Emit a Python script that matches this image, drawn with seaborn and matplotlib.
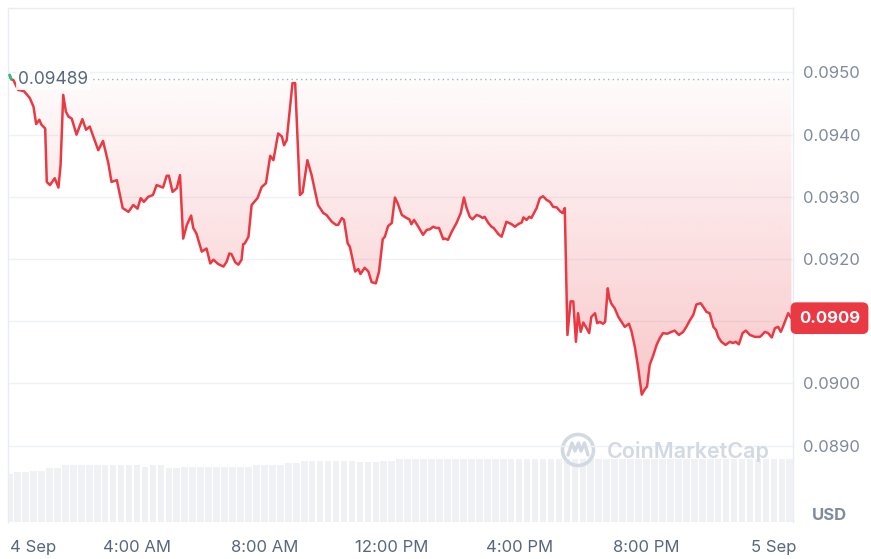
import numpy as np
import matplotlib
matplotlib.use("Agg")
import matplotlib.pyplot as plt
import matplotlib.transforms as mtransforms
from matplotlib.patches import Circle, PathPatch
from matplotlib.lines import Line2D
import seaborn as sns

# ---------------- data ----------------
minutes = [0, 3, 7, 16, 27, 38, 45, 50, 56, 60, 67, 70, 76, 85, 92, 96, 101, 106, 111, 117,
           126, 137, 144, 151, 161, 167, 176, 186, 192, 202, 213, 224, 233, 241, 247, 253, 261,
           270, 277, 289, 296, 300, 307, 315, 321, 327, 334, 342, 346, 352, 362, 371, 378, 384,
           393, 403, 409, 414, 418, 425, 431, 437, 440, 443, 450, 456, 467, 475, 483, 491, 497,
           506, 513, 517, 522, 533, 538, 547, 552, 561, 569, 581, 591, 597, 607, 615, 619, 626,
           630, 637, 641, 651, 657, 661, 669, 676, 682, 690, 696, 703, 707, 713, 720, 726, 731,
           739, 748, 753, 757, 762, 770, 779, 786, 792, 798, 804, 809, 817, 820, 826, 833, 842,
           850, 856, 861, 867, 872, 880, 886, 891, 895, 902, 908, 912, 921, 927, 936, 946, 952,
           958, 965, 968, 974, 979, 983, 993, 999, 1005, 1012, 1018, 1024, 1031, 1037, 1042,
           1046, 1051, 1057, 1062, 1067, 1071, 1076, 1081, 1087, 1092, 1096, 1103, 1107, 1112,
           1118, 1122, 1127, 1130, 1134, 1140, 1147, 1153, 1159, 1167, 1172, 1178, 1184, 1191,
           1197, 1201, 1206, 1213, 1219, 1225, 1231, 1239, 1247, 1253, 1261, 1269, 1275, 1282,
           1288, 1294, 1302, 1307, 1313, 1319, 1326, 1331, 1335, 1341, 1349, 1357, 1363, 1368,
           1374, 1381, 1387, 1395, 1404, 1414, 1423, 1429, 1436, 1442, 1448, 1453, 1457, 1467,
           1473]
prices = [0.09496, 0.09489, 0.09488, 0.09472, 0.09470, 0.09459, 0.09445, 0.09417, 0.09424,
          0.09416, 0.09410, 0.09324, 0.09319, 0.09330, 0.09315, 0.09351, 0.09464, 0.09437,
          0.09429, 0.09426, 0.09400, 0.09425, 0.09408, 0.09413, 0.09389, 0.09375, 0.09390,
          0.09354, 0.09324, 0.09327, 0.09282, 0.09276, 0.09287, 0.09281, 0.09298, 0.09292,
          0.09300, 0.09303, 0.09319, 0.09315, 0.09334, 0.09334, 0.09308, 0.09314, 0.09335,
          0.09233, 0.09255, 0.09270, 0.09250, 0.09241, 0.09212, 0.09217, 0.09193, 0.09199,
          0.09192, 0.09188, 0.09196, 0.09209, 0.09208, 0.09195, 0.09191, 0.09199, 0.09224,
          0.09225, 0.09236, 0.09287, 0.09298, 0.09316, 0.09322, 0.09366, 0.09359, 0.09402,
          0.09397, 0.09383, 0.09391, 0.09483, 0.09483, 0.09303, 0.09307, 0.09359, 0.09335,
          0.09287, 0.09274, 0.09271, 0.09260, 0.09255, 0.09255, 0.09266, 0.09263, 0.09225,
          0.09220, 0.09180, 0.09184, 0.09176, 0.09186, 0.09180, 0.09163, 0.09161, 0.09180,
          0.09232, 0.09236, 0.09253, 0.09258, 0.09299, 0.09290, 0.09271, 0.09266, 0.09264,
          0.09256, 0.09263, 0.09252, 0.09239, 0.09247, 0.09248, 0.09252, 0.09250, 0.09250,
          0.09232, 0.09233, 0.09231, 0.09244, 0.09258, 0.09274, 0.09299, 0.09282, 0.09268,
          0.09264, 0.09271, 0.09269, 0.09266, 0.09268, 0.09258, 0.09252, 0.09250, 0.09240,
          0.09236, 0.09260, 0.09256, 0.09252, 0.09256, 0.09259, 0.09267, 0.09263, 0.09268,
          0.09266, 0.09282, 0.09298, 0.09301, 0.09295, 0.09292, 0.09284, 0.09283, 0.09277,
          0.09274, 0.09282, 0.09078, 0.09132, 0.09132, 0.09067, 0.09113, 0.09083, 0.09098,
          0.09089, 0.09081, 0.09107, 0.09113, 0.09097, 0.09099, 0.09096, 0.09099, 0.09153,
          0.09137, 0.09128, 0.09121, 0.09107, 0.09099, 0.09091, 0.09096, 0.09083, 0.09059,
          0.09027, 0.08982, 0.08991, 0.08995, 0.09030, 0.09046, 0.09062, 0.09073, 0.09081,
          0.09080, 0.09083, 0.09085, 0.09078, 0.09083, 0.09091, 0.09102, 0.09110, 0.09127,
          0.09129, 0.09123, 0.09115, 0.09113, 0.09091, 0.09086, 0.09075, 0.09067, 0.09062,
          0.09067, 0.09065, 0.09067, 0.09063, 0.09081, 0.09085, 0.09078, 0.09075, 0.09075,
          0.09083, 0.09081, 0.09074, 0.09089, 0.09091, 0.09083, 0.09091, 0.09113, 0.09105]

vol_minutes = list(range(0, 1471, 15))
volumes = [4.8, 5.0, 5.0, 5.1, 5.1, 5.4, 5.4,
           5.7, 5.7, 5.7, 5.7, 5.7, 5.7, 5.7, 5.7, 5.7, 5.7,
           5.5, 5.7, 5.7, 5.4, 5.4,
           5.5, 5.5, 5.5, 5.5, 5.5, 5.5, 5.5, 5.5, 5.5,
           5.7, 5.7, 5.7, 5.7, 5.9, 5.9,
           6.1, 6.1, 6.1, 6.1, 6.1, 6.1, 6.1, 6.0, 6.0, 6.0, 6.1, 6.1,
           6.3, 6.3, 6.3, 6.3, 6.3, 6.3, 6.3, 6.3, 6.3, 6.3,
           6.3, 6.3, 6.3, 6.3, 6.3, 6.3, 6.3, 6.3, 6.3, 6.3,
           6.3, 6.3, 6.3, 6.3, 6.3, 6.3, 6.3, 6.3, 6.3, 6.3,
           6.3, 6.3, 6.3, 6.3, 6.3, 6.3, 6.3, 6.3, 6.3, 6.3,
           6.3, 6.3, 6.3, 6.3, 6.3, 6.3, 6.3, 6.3, 6.3, 6.3]

open_price = 0.09489
open_label = "0.09489"
last_label = "0.0909"
tick_hours = [0, 4, 8, 12, 16, 20, 24]
tick_labels = ["4 Sep", "4:00 AM", "8:00 AM", "12:00 PM", "4:00 PM", "8:00 PM", "5 Sep"]
ytick_vals = [0.0890, 0.0900, 0.0910, 0.0920, 0.0930, 0.0940, 0.0950]
ytick_labels = ["0.0890", "0.0900", "", "0.0920", "0.0930", "0.0940", "0.0950"]

# ---------------- style ----------------
sns.set_style("white")
plt.rcParams['font.family'] = ['Inter', 'DejaVu Sans']

RED = '#ea3943'
GREEN = '#16c784'
GRID = '#eff2f5'
YLAB = '#808a9d'
XLAB = '#58667e'

W, H = 871, 559
fig = plt.figure(figsize=(W / 100, H / 100), dpi=100)
L, R, T, B = 7.5, 793, 7.5, 522
ax = fig.add_axes([L / W, 1 - B / H, (R - L) / W, (B - T) / H])
ax2 = ax.twinx()

xlim = (-4, 1476)
ylim = (0.087773, 0.096045)

# volume bars
ax2.bar(vol_minutes, volumes, width=12.5, color='#eff1f5', linewidth=0)
ax2.set_ylim(0, 51.45)
ax2.set_yticks([])
for s in ax2.spines.values():
    s.set_visible(False)

ax.set_zorder(ax2.get_zorder() + 1)
ax.patch.set_visible(False)

# gradient fill between price and opening price
poly = ax.fill_between(minutes, prices, open_price, facecolor='none', edgecolor='none')
clip = PathPatch(poly.get_paths()[0], transform=ax.transData, facecolor='none', edgecolor='none')
ax.add_patch(clip)
n = 256
rgba = np.zeros((n, 1, 4))
rgba[..., 0] = 234 / 255
rgba[..., 1] = 57 / 255
rgba[..., 2] = 67 / 255
rgba[:, 0, 3] = np.linspace(0.02, 0.28, n)
im = ax.imshow(rgba, extent=[xlim[0], xlim[1], 0.0898, open_price], origin='upper',
               aspect='auto', zorder=1, interpolation='bilinear')
im.set_clip_path(clip)

# price line
sns.lineplot(x=minutes, y=prices, ax=ax, color=RED, linewidth=1.8, zorder=3)
ax.plot(minutes[:2], prices[:2], color=GREEN, linewidth=1.8, zorder=4, solid_capstyle='round')

# opening price dotted line and label
ax.axhline(open_price, xmin=(88 - L) / (R - L), xmax=0.997, color='#a6b0c3',
           linewidth=1.0, linestyle=(0, (1, 2.4)), zorder=2)
trans = mtransforms.blended_transform_factory(ax.transAxes, ax.transData)
ax.text((18 - L) / (R - L), open_price, open_label, transform=trans, ha='left', va='center',
        fontsize=12.5, color=XLAB, zorder=5,
        bbox=dict(boxstyle='square,pad=0.1', fc='white', ec='none', alpha=0.85))

ax.set_xlim(*xlim)
ax.set_ylim(*ylim)

# axes styling
ax.set_xticks([h * 60 for h in tick_hours])
ax.set_xticklabels(tick_labels)
ax.get_xticklabels()[0].set_horizontalalignment('left')
ax.tick_params(axis='x', length=0, pad=13, labelsize=12, labelcolor=XLAB)
ax.yaxis.tick_right()
ax.set_yticks(ytick_vals)
ax.set_yticklabels(ytick_labels)
ax.tick_params(axis='y', length=0, pad=7, labelsize=12, labelcolor=YLAB)
ax.grid(axis='y', color=GRID, linewidth=1)
ax.grid(axis='x', visible=False)
ax.set_axisbelow(True)
for name in ['left', 'top', 'right']:
    ax.spines[name].set_color('#e9ecf0')
    ax.spines[name].set_linewidth(1)
ax.spines['bottom'].set_visible(False)
ax.set_xlabel('')
ax.set_ylabel('')

# last price box
ax.text((829.5 - L) / (R - L), prices[-1], last_label, transform=trans, ha='center',
        va='center', fontsize=12, fontweight='bold', color='white', zorder=6, clip_on=False,
        bbox=dict(boxstyle='round,pad=0.5,rounding_size=0.35', fc=RED, ec='none'))

# USD label
fig.text(829 / W, 1 - 516 / H, 'USD', ha='center', va='center', fontsize=12,
         fontweight='bold', color=YLAB)

# watermark
WM = '#d3d9e3'
ident = mtransforms.IdentityTransform()
fig.add_artist(Circle((578, H - 450), 15.5, transform=ident, fill=False, lw=2.6, ec=WM))
fig.add_artist(Line2D([568, 572, 575, 578.5, 581, 584.5, 588],
                      [H - 455, H - 443, H - 451, H - 443, H - 451, H - 443, H - 455],
                      transform=ident, color=WM, lw=2.4, solid_joinstyle='round'))
fig.text(607 / W, 1 - 452 / H, 'CoinMarketCap', ha='left', va='center', fontsize=15.5,
         fontweight='semibold', color=WM)

fig.savefig('out.png', dpi=100)
